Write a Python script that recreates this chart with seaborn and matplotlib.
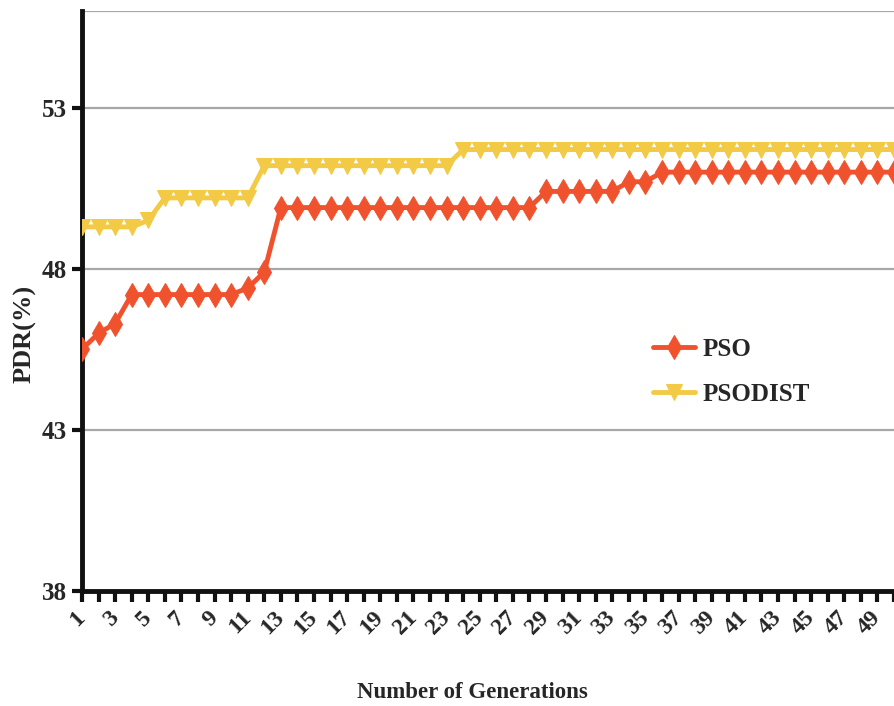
import numpy as np
import pandas as pd
import matplotlib
matplotlib.use('Agg')
import matplotlib.pyplot as plt
import seaborn as sns

# data
generations = list(range(1, 51))
pso = [45.5, 46.0, 46.3, 47.2, 47.2, 47.2, 47.2, 47.2, 47.2, 47.2,
       47.4, 47.9, 49.9, 49.9, 49.9, 49.9, 49.9, 49.9, 49.9, 49.9,
       49.9, 49.9, 49.9, 49.9, 49.9, 49.9, 49.9, 49.9, 50.4, 50.4,
       50.4, 50.4, 50.4, 50.7, 50.7, 51.0, 51.0, 51.0, 51.0, 51.0,
       51.0, 51.0, 51.0, 51.0, 51.0, 51.0, 51.0, 51.0, 51.0, 51.0]
psodist = [49.3, 49.3, 49.3, 49.3, 49.5, 50.2, 50.2, 50.2, 50.2, 50.2,
           50.2, 51.2, 51.2, 51.2, 51.2, 51.2, 51.2, 51.2, 51.2, 51.2,
           51.2, 51.2, 51.2, 51.7, 51.7, 51.7, 51.7, 51.7, 51.7, 51.7,
           51.7, 51.7, 51.7, 51.7, 51.7, 51.7, 51.7, 51.7, 51.7, 51.7,
           51.7, 51.7, 51.7, 51.7, 51.7, 51.7, 51.7, 51.7, 51.7, 51.7]
y_ticks = [38, 43, 48, 53]

df = pd.DataFrame({'gen': generations, 'PSO': pso, 'PSODIST': psodist})

sns.set_style('white')
plt.rcParams['font.family'] = ['Liberation Serif', 'DejaVu Serif']
plt.rcParams['font.weight'] = 'bold'

W, H = 894, 706
fig = plt.figure(figsize=(W / 100, H / 100), dpi=100)
ax = fig.add_axes([82 / W, 1 - 591 / H, (W - 82) / W, (591 - 11) / H])

red = '#F0522E'
yellow = '#F2CA45'

sns.lineplot(data=df, x='gen', y='PSO', ax=ax, color=red, lw=3.5,
             marker='d', markersize=12.5, markeredgecolor=red, label='PSO', zorder=4)
sns.lineplot(data=df, x='gen', y='PSODIST', ax=ax, color=yellow, lw=3.5,
             marker='v', markersize=12, markeredgecolor=yellow, label='PSODIST', zorder=3)

ax.set_xlim(1, 1 + (W - 82) / 16.67)
ax.set_ylim(38, 56)

# grid lines
ax.set_yticks(y_ticks)
for v in y_ticks[1:] + [56]:
    ax.axhline(v, color='#A8A8A8', lw=1.6, zorder=1)

ax.set_xticks(generations)
ax.set_xticklabels([str(g) if g % 2 == 1 else '' for g in generations],
                   rotation=45, ha='right', va='center', rotation_mode='anchor')

for s in ['top', 'right']:
    ax.spines[s].set_visible(False)
for s in ['left', 'bottom']:
    ax.spines[s].set_color('#111111')
    ax.spines[s].set_linewidth(3.5)

ax.tick_params(axis='x', direction='out', length=8, width=3, color='#111111',
               bottom=True, labelsize=17, pad=9)
ax.tick_params(axis='y', direction='out', length=7, width=3, color='#111111',
               left=True, labelsize=18, pad=4)

ax.set_xlabel('')
ax.set_ylabel('')
fig.text(472 / W, 1 - 692 / H, 'Number of Generations', ha='center', va='center',
         fontsize=16.5, fontweight='bold')
fig.text(25 / W, 1 - 334 / H, 'PDR(%)', ha='center', va='center', rotation=90,
         fontsize=19, fontweight='bold')

ax.legend(frameon=False, loc='upper left', bbox_to_anchor=(630 / W, 1 - 315 / H),
          bbox_transform=fig.transFigure, handlelength=1.7,
          labelspacing=0.9, handletextpad=0.3, prop={'weight': 'bold', 'size': 18})

fig.savefig('out.png', dpi=100)
